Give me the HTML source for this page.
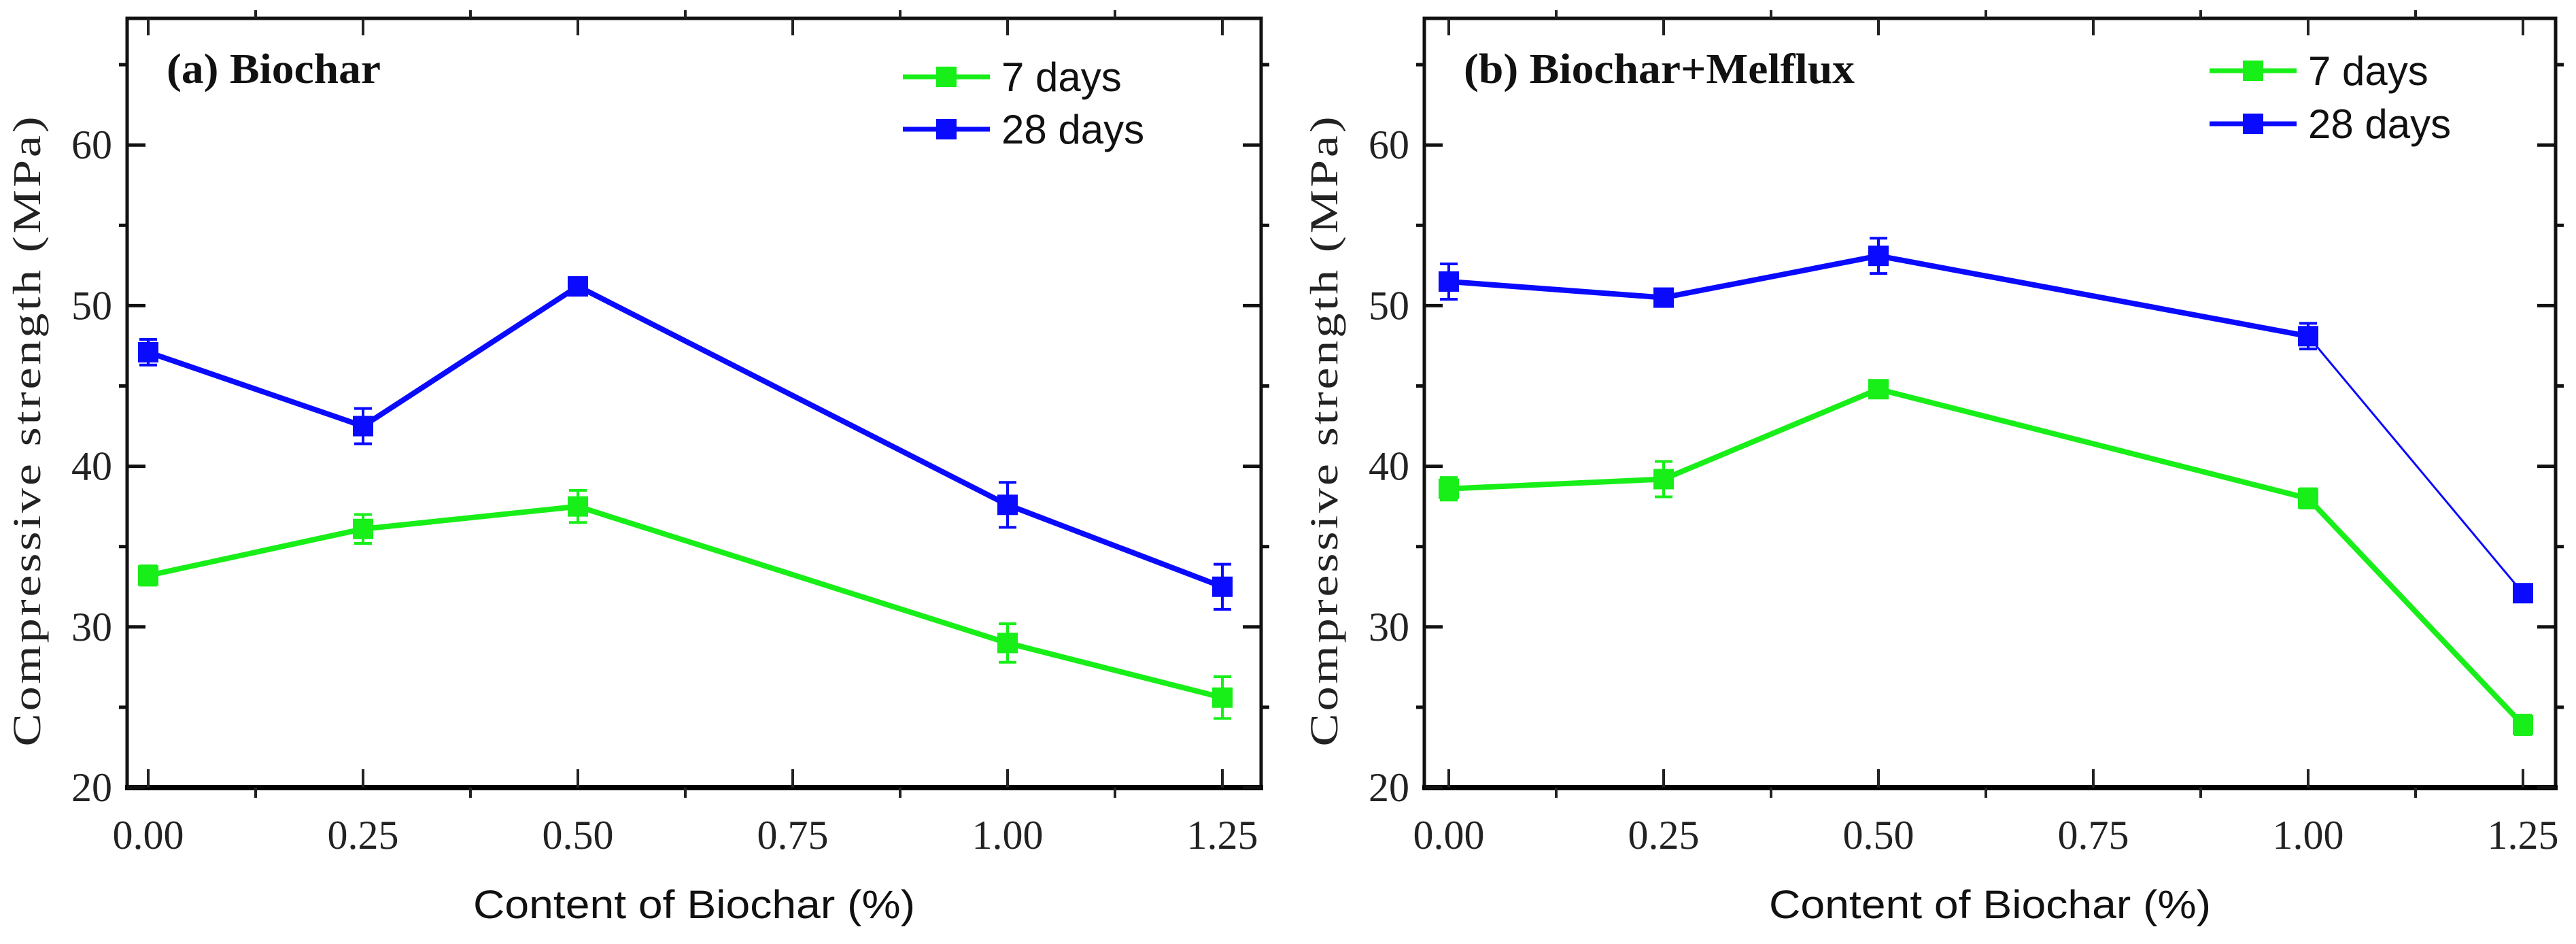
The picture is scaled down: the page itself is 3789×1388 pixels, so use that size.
<!DOCTYPE html>
<html><head><meta charset="utf-8"><style>
html,body{margin:0;padding:0;background:#fff;}
svg{display:block;}
.tk{font-family:"Liberation Serif",serif;font-size:60px;fill:#222;}
.yt{font-family:"Liberation Serif",serif;font-size:58px;fill:#222;letter-spacing:3px;}
.xt{font-family:"Liberation Sans",sans-serif;font-size:58px;fill:#111;}
.lg{font-family:"Liberation Sans",sans-serif;font-size:60px;fill:#111;}
.pl{font-family:"Liberation Serif",serif;font-size:62px;font-weight:bold;fill:#111;}
</style></head><body>
<svg id="fig" width="3789" height="1388" viewBox="0 0 3789 1388" xmlns="http://www.w3.org/2000/svg"></svg>
<script>
const categories = [0, 0.25, 0.5, 1.0, 1.25];
const xTicks = [0, 0.25, 0.5, 0.75, 1.0, 1.25];
const xTickLabels = ["0.00","0.25","0.50","0.75","1.00","1.25"];
const yTicks = [20, 30, 40, 50, 60];
const a7 = [33.2, 36.1, 37.5, 29.0, 25.6];
const a7err = [0.6, 0.9, 1.0, 1.2, 1.3];
const a28 = [47.1, 42.5, 51.2, 37.6, 32.5];
const a28err = [0.8, 1.1, 0.5, 1.4, 1.4];
const b7 = [38.6, 39.2, 44.8, 38.0, 23.9];
const b7err = [0.7, 1.1, 0.5, 0.6, 0.6];
const b28 = [51.5, 50.5, 53.1, 48.1, 32.1];
const b28err = [1.1, 0.5, 1.1, 0.8, 0.3];

const NS = "http://www.w3.org/2000/svg";
const svg = document.getElementById('fig');
function mk(tag, attrs, parent){
  const e = document.createElementNS(NS, tag);
  for (const k in attrs) e.setAttribute(k, attrs[k]);
  (parent||svg).appendChild(e);
  return e;
}
const GREEN = "#18ee18", BLUE = "#0a0aff";

function panel(cfg){
  const g = mk('g', {});
  
  
  const L = cfg.left, R = cfg.right, T = 27, B = 1158;
  const x = v => cfg.x0 + v * 1264;
  const y = v => B - (v - 20) * 23.62;
  const frame = mk('rect', {x:L, y:T, width:R-L, height:B-T, fill:'none', stroke:'#111', 'stroke-width':5}, g);
  
  
  mk('line', {x1:L-3, y1:B, x2:R+3, y2:B, stroke:'#000', 'stroke-width':8}, g);
  xTicks.forEach((v,i) => {
    const xx = x(v);
    mk('line', {x1:xx, y1:B, x2:xx, y2:B-27, stroke:'#222', 'stroke-width':4}, g);
    mk('line', {x1:xx, y1:T, x2:xx, y2:T+25, stroke:'#222', 'stroke-width':4}, g);
    const t = mk('text', {x:xx, y:B+90, 'text-anchor':'middle', class:'tk'}, g);
    t.textContent = xTickLabels[i];
    
    
    if (i < xTicks.length-1){
      const xm = x(v + 0.125);
      mk('line', {x1:xm, y1:B, x2:xm, y2:B+15, stroke:'#222', 'stroke-width':4}, g);
      mk('line', {x1:xm, y1:T, x2:xm, y2:T-12, stroke:'#222', 'stroke-width':4}, g);
    }
  });
  for (let v = 20; v <= 65; v += 5){
    const yy = y(v);
    const major = v % 10 === 0;
    mk('line', {x1:L-(major?0:12), y1:yy, x2:L+(major?27:0), y2:yy, stroke:'#111', 'stroke-width':5}, g);
    mk('line', {x1:R-(major?27:0), y1:yy, x2:R+(major?0:12), y2:yy, stroke:'#111', 'stroke-width':5}, g);
  }
  yTicks.forEach(v => {
    const t = mk('text', {x:L-22, y:y(v)+20, 'text-anchor':'end', class:'tk'}, g);
    t.textContent = v;
    
    
  });
  const yt = mk('text', {x:0, y:0, 'text-anchor':'middle', class:'yt', transform:`translate(${L-128},${(T+B)/2+40}) rotate(-90)`, textLength:930, lengthAdjust:'spacingAndGlyphs'}, g);
  yt.textContent = 'Compressive strength (MPa)';
  
  
  const xt = mk('text', {x:(L+R)/2, y:1350, 'text-anchor':'middle', class:'xt', textLength:650, lengthAdjust:'spacingAndGlyphs'}, g);
  xt.textContent = 'Content of Biochar (%)';
  
  
  const pl = mk('text', {x:cfg.labelX, y:122, class:'pl', textLength:cfg.labelW, lengthAdjust:'spacingAndGlyphs'}, g);
  pl.textContent = cfg.label;
  
  
  function series(vals, errs, color, name, thinLast){
    const sg = mk('g', {}, g);
    
    
    for (let i = 0; i < vals.length-1; i++){
      const thin = thinLast && i === vals.length-2;
      mk('line', {x1:x(categories[i]), y1:y(vals[i]), x2:x(categories[i+1]), y2:y(vals[i+1]), stroke:color, 'stroke-width':thin?3:8}, sg);
    }
    vals.forEach((v,i) => {
      const xx = x(categories[i]);
      const e = errs[i];
      mk('line', {x1:xx, y1:y(v+e), x2:xx, y2:y(v-e), stroke:color, 'stroke-width':4}, sg);
      mk('line', {x1:xx-13, y1:y(v+e), x2:xx+13, y2:y(v+e), stroke:color, 'stroke-width':4}, sg);
      mk('line', {x1:xx-13, y1:y(v-e), x2:xx+13, y2:y(v-e), stroke:color, 'stroke-width':4}, sg);
      const m = mk('rect', {x:xx-15, y:y(v)-15, width:30, height:30, fill:color}, sg);
      
      
    });
  }
  series(cfg.s7, cfg.e7, GREEN, 'series-7-days', false);
  series(cfg.s28, cfg.e28, BLUE, 'series-28-days', cfg.thin);
  const lg = mk('g', {}, g);
  
  
  [[GREEN,'7 days',cfg.legY1],[BLUE,'28 days',cfg.legY2]].forEach(([c,lab,ly]) => {
    const e = mk('g', {}, lg);
    
    
    mk('line', {x1:cfg.legX, y1:ly, x2:cfg.legX+128, y2:ly, stroke:c, 'stroke-width':7}, e);
    mk('rect', {x:cfg.legX+49, y:ly-15, width:30, height:30, fill:c}, e);
    const t = mk('text', {x:cfg.legX+145, y:ly+21, class:'lg'}, e);
    t.textContent = lab;
  });
}

panel({name:'panel-a-biochar', left:187, right:1855, x0:218, label:'(a) Biochar', labelX:245, labelW:315,
  s7:a7, e7:a7err, s28:a28, e28:a28err, thin:false, legX:1328, legY1:113, legY2:190});
panel({name:'panel-b-biochar-melflux', left:2095, right:3759, x0:2131, label:'(b) Biochar+Melflux', labelX:2153, labelW:575,
  s7:b7, e7:b7err, s28:b28, e28:b28err, thin:true, legX:3250, legY1:104, legY2:182});
</script>
</body></html>
